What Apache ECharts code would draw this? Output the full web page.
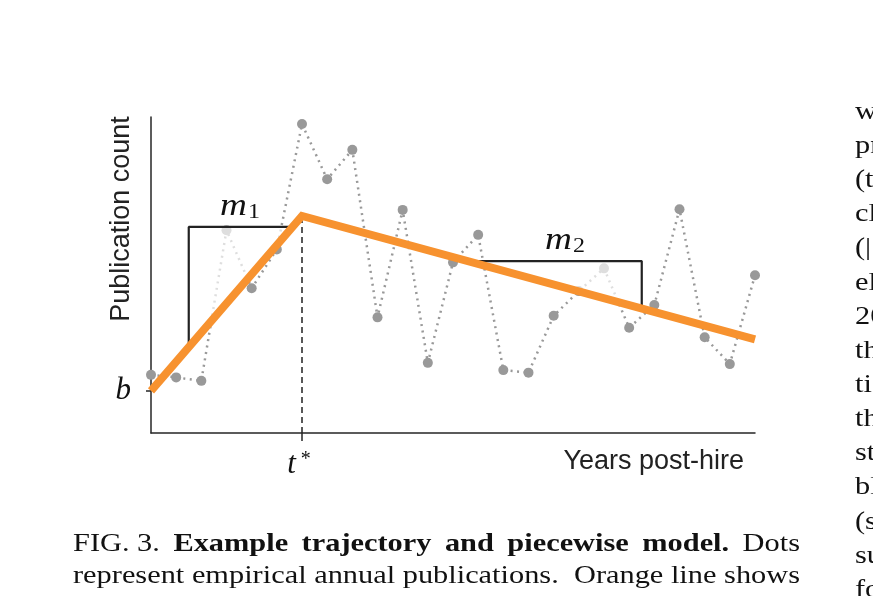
<!DOCTYPE html>
<html><head><meta charset="utf-8">
<script src="https://cdn.jsdelivr.net/npm/echarts@6/dist/echarts.min.js"></script>
<style>html,body{margin:0;padding:0;background:#fff;overflow:hidden}#c{width:873px;height:596px}</style>
</head><body><div id="c"></div>
<script>
// ---- data ----
const years = [0,1,2,3,4,5,6,7,8,9,10,11,12,13,14,15,16,17,18,19,20,21,22,23,24];
const pubs  = [18.4,17.6,16.5,64.2,45.8,58.1,97.8,80.3,89.6,36.6,70.6,22.2,54.0,62.7,19.9,19.1,37.1,44.9,52.1,33.3,40.5,70.8,30.3,21.8,49.9];
const fitX  = [0, 6, 24];
const fitY  = [13.3, 68.7, 29.6];
const m1X   = [1.5, 1.5, 5.62];
const m1Y   = [27.15, 65.2, 65.2];
const m2X   = [12.58, 19.5, 19.5];
const m2Y   = [54.4, 54.4, 39.4];
const tStar = 6;
const bVal  = 13.3;
const yLabel = 'Publication count';
const xLabel = 'Years post-hire';
const captionLines = [
  [['FIG. 3.',0],['Example',1],['trajectory',1],['and',1],['piecewise',1],['model.',1],['Dots',0]],
  [['represent',0],['empirical',0],['annual',0],['publications. ',0],['Orange',0],['line',0],['shows',0]],
  [['best',0],['fit',0],['of',0],['piecewise',0],['linear',0],['model',0],['[Eq.',0],['(1)]',2],['with',0],['slopes',0]]
];
const sideFragments = ['w','pr','(t','cl','(|','el','20','th','ti','th','st','bl','(s','su','fo'];

// ---- build ----
const serif = '"Liberation Serif", "Times New Roman", serif';
const sans = '"Liberation Sans", Arial, Helvetica, sans-serif';
const chart = echarts.init(document.getElementById('c'), null, {renderer:'canvas'});
const pts = years.map((x,i)=>[x,pubs[i]]);
const fit = fitX.map((x,i)=>[x,fitY[i]]);
const tri1 = m1X.map((x,i)=>[x,m1Y[i]]);
const tri2 = m2X.map((x,i)=>[x,m2Y[i]]);

const graphics = [];
const cv = document.createElement('canvas').getContext('2d');
const capSize = 26;
function fontStr(b){ return (b===1?'bold ':'') + capSize + 'px ' + serif; }
const capX0 = 73, capX1 = 800;
cv.font = fontStr(0);
const refW = cv.measureText('represent empirical annual publications.  Orange line shows').width;
const sx = (capX1 - capX0) / refW;
const bases = [551, 583, 616];
captionLines.forEach((words, li) => {
  const ws = words.map(w => { cv.font = fontStr(w[1]); return cv.measureText(w[0]).width * sx; });
  const tot = ws.reduce((a,b)=>a+b,0);
  const gap = (capX1 - capX0 - tot) / (words.length - 1);
  let x = capX0;
  words.forEach((w, i) => {
    const st = {x: 0, y: 0, font: fontStr(w[1]), fill: '#111', align: 'left', verticalAlign: 'bottom', text: w[0]};
    if (w[1] === 2) {
      st.text = '({r|1})]';
      st.rich = {r: {fill: '#d00', font: fontStr(0)}};
    }
    graphics.push({type:'text', silent:true, x: x, y: bases[li] + 6, scaleX: sx, style: st});
    x += ws[i] + gap;
  });
});
sideFragments.forEach((t, i) => {
  graphics.push({type:'text', silent:true, x:855, y:112 + i*34.14, scaleX: sx,
    style:{text:t, x:0, y:0, font: capSize+'px '+serif, fill:'#111', align:'left', verticalAlign:'middle'}});
});
graphics.push({type:'text', silent:true, x:122, y:219, rotation:Math.PI/2,
  style:{text:yLabel, font:'27px '+sans, fill:'#222', align:'center', verticalAlign:'middle'}});
graphics.push({type:'text', silent:true,
  style:{text:xLabel, x:744, y:462, font:'27px '+sans, fill:'#222', align:'right', verticalAlign:'middle'}});
const mRich = {m:{font:'italic 31px '+serif, fill:'#111'}, s:{font:'20px '+serif, fill:'#111', padding:[12,0,0,1]}};
graphics.push({type:'text', silent:true, x:220, y:207, scaleX:1.2,
  style:{text:'{m|m}{s|1}', x:0, y:0, verticalAlign:'middle', align:'left', rich:mRich}});
graphics.push({type:'text', silent:true, x:545, y:241, scaleX:1.2,
  style:{text:'{m|m}{s|2}', x:0, y:0, verticalAlign:'middle', align:'left', rich:mRich}});

const option = {
  animation: false,
  backgroundColor: '#fff',
  grid: {left:151, top:117, width:604, height:316, containLabel:false},
  xAxis: {
    type:'value', min:0, max:24,
    axisLine:{show:true, lineStyle:{color:'#262626', width:1.5}},
    axisTick:{show:true, customValues:[tStar], length:8, lineStyle:{color:'#262626', width:1.5}},
    axisLabel:{show:true, customValues:[tStar], margin:17,
      formatter:()=> '{t|t}{s| *}',
      rich:{t:{fontFamily:serif, fontStyle:'italic', fontSize:31, color:'#111', lineHeight:30},
            s:{fontFamily:serif, fontSize:20, color:'#111', verticalAlign:'top', lineHeight:30, padding:[0,6,10,0]}}},
    splitLine:{show:false}
  },
  yAxis: {
    type:'value', min:0, max:100,
    axisLine:{show:true, lineStyle:{color:'#262626', width:1.5}},
    axisTick:{show:true, customValues:[bVal], length:5, lineStyle:{color:'#262626', width:1.5}},
    axisLabel:{show:true, customValues:[bVal], margin:20, formatter:()=>'b',
      fontFamily:serif, fontStyle:'italic', fontSize:31, color:'#111'},
    splitLine:{show:false}
  },
  series: [
    {type:'line', data:pts, z:2, clip:false, symbol:'circle', symbolSize:10,
     itemStyle:{color:'#999'}, lineStyle:{color:'#999', width:2.5, type:[2,4.5]}},
    {type:'custom', z:3, clip:false, data:[0,1],
     renderItem:(params, api)=>{
       const tri = params.dataIndex === 0 ? tri1 : tri2;
       return {type:'polygon', shape:{points: tri.map(p=>api.coord(p))},
         style:{fill:'rgba(255,255,255,0.68)', stroke:null}};
     }},
    {type:'line', data:tri1, z:4, clip:false, symbol:'none', lineStyle:{color:'#222', width:2.2}},
    {type:'line', data:tri2, z:4, clip:false, symbol:'none', lineStyle:{color:'#222', width:2.2}},
    {type:'line', data:[[tStar,0],[tStar,fitY[1]]], z:4, clip:false, symbol:'none',
     lineStyle:{color:'#222', width:1.5, type:[6,4]}},
    {type:'line', data:fit, z:5, clip:false, symbol:'none',
     lineStyle:{color:'#F7922F', width:8, cap:'butt', join:'miter'}}
  ],
  graphic: graphics
};
chart.setOption(option);
</script>
</body></html>
